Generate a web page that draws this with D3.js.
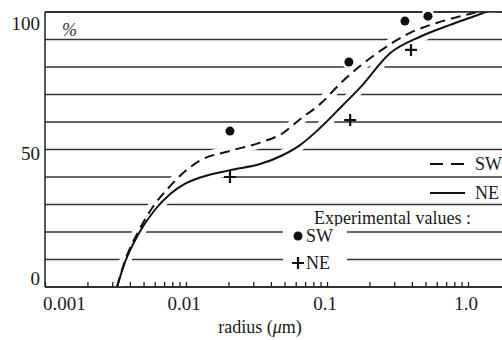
<!DOCTYPE html>
<html>
<head>
<meta charset="utf-8">
<script src="https://cdn.jsdelivr.net/npm/d3@7"></script>
<style>
  body { margin: 0; background: #fff; }
  svg { display: block; }
</style>
</head>
<body>
<div id="chart"></div>
<script>
// cumulative size distribution, % vs radius (um)
var radiusNE = [0.00324, 0.00369, 0.00457, 0.0060, 0.0078, 0.0098, 0.0126, 0.0205, 0.0335, 0.0488, 0.0644, 0.0892, 0.13, 0.171, 0.28, 0.457, 0.745, 1.16, 1.6];
var percentNE = [0, 9, 19, 28, 34, 37.5, 39.8, 42.5, 44.7, 48, 51.6, 57.8, 66.2, 72.4, 85, 91, 95.3, 98.8, 101.5];

var radiusSW = [0.00324, 0.00369, 0.00457, 0.0058, 0.0075, 0.0098, 0.0126, 0.0205, 0.0335, 0.0488, 0.0644, 0.0892, 0.13, 0.226, 0.388, 0.633, 1.03, 1.5];
var percentSW = [0, 9.5, 20, 29, 36, 42, 46, 49.5, 52.5, 56, 61, 66.5, 75, 85, 92.4, 96.4, 99.3, 101.5];

// experimental values
var expRadiusSW = [0.0205, 0.143, 0.357, 0.52];
var expPercentSW = [56.7, 81.8, 96.7, 98.5];
var expRadiusNE = [0.0205, 0.146, 0.394];
var expPercentNE = [40, 60.7, 86.2];

var xTickValues = [0.001, 0.01, 0.1, 1];
var xTickLabels = ["0.001", "0.01", "0.1", "1.0"];
var yTickValues = [0, 50, 100];
var gridValues = [0, 10, 20, 30, 40, 50, 60, 70, 80, 90, 100];

var width = 502, height = 340;
var pLeft = 45, pRight = 502, pTop = 12, pBottom = 287;
var serif = '"Liberation Serif", "Times New Roman", Times, "DejaVu Serif", serif';

var svg = d3.select('#chart').append('svg')
	.attr('width', width)
	.attr('height', height)
	.attr('font-family', serif);

svg.append('rect').attr('width', width).attr('height', height).attr('fill', '#fff');

var x = d3.scaleLog().domain([0.001, 1]).range([pLeft, 468]);
var y = d3.scaleLinear().domain([0, 100]).range([pBottom, pTop]);

svg.append('clipPath').attr('id', 'plot')
	.append('rect')
	.attr('x', pLeft).attr('y', pTop)
	.attr('width', pRight - pLeft).attr('height', pBottom - pTop);

// gridlines
svg.append('g').selectAll('line')
	.data(gridValues)
	.enter().append('line')
	.attr('x1', pLeft).attr('x2', pRight)
	.attr('y1', d => y(d)).attr('y2', d => y(d))
	.style('stroke', '#333')
	.style('stroke-width', 1.3);

var plot = svg.append('g').attr('clip-path', 'url(#plot)');

var line = d3.line().curve(d3.curveMonotoneX);
var ne = radiusNE.map((r, i) => [x(r), y(percentNE[i])]);
var sw = radiusSW.map((r, i) => [x(r), y(percentSW[i])]);

// white halo so gridlines break where curves pass
[ne, sw].forEach(pts => {
	plot.append('path')
		.attr('d', line(pts))
		.style('fill', 'none')
		.style('stroke', '#fff')
		.style('stroke-width', 11);
});

plot.append('path')
	.attr('d', line(sw))
	.style('fill', 'none')
	.style('stroke', '#111')
	.style('stroke-width', 2)
	.style('stroke-dasharray', '10,6');

plot.append('path')
	.attr('d', line(ne))
	.style('fill', 'none')
	.style('stroke', '#111')
	.style('stroke-width', 2);

// axes
svg.append('line')
	.attr('x1', pLeft).attr('x2', pLeft).attr('y1', pTop).attr('y2', pBottom)
	.style('stroke', '#222').style('stroke-width', 1.5);
svg.append('line')
	.attr('x1', pLeft).attr('x2', pRight).attr('y1', pBottom).attr('y2', pBottom)
	.style('stroke', '#222').style('stroke-width', 1.5);
svg.append('line')
	.attr('x1', pLeft).attr('x2', pRight).attr('y1', pTop).attr('y2', pTop)
	.style('stroke', '#222').style('stroke-width', 1.5);

var xAxis = svg.append('g')
	.attr('transform', 'translate(0,' + pBottom + ')')
	.call(d3.axisBottom(x).tickValues(x.ticks()).tickSize(-5).tickFormat(''));
xAxis.select('.domain').remove();
xAxis.selectAll('line').style('stroke', '#222').style('stroke-width', 1.3);

svg.append('g').selectAll('text')
	.data(xTickValues)
	.enter().append('text')
	.attr('x', (d, i) => i === 0 ? pLeft - 2 : x(d) - 2)
	.attr('y', 310)
	.attr('text-anchor', (d, i) => i === 0 ? 'start' : 'middle')
	.style('font-size', '19px')
	.style('fill', '#1a1a1a')
	.text((d, i) => xTickLabels[i]);

var yShift = { 0: -9, 50: 4, 100: 11 };
svg.append('g').selectAll('text')
	.data(yTickValues)
	.enter().append('text')
	.attr('x', 40)
	.attr('y', d => y(d) + yShift[d])
	.attr('dy', '0.35em')
	.attr('text-anchor', 'end')
	.style('font-size', '19px')
	.style('fill', '#1a1a1a')
	.text(d => d);

svg.append('text')
	.attr('x', 62).attr('y', 36)
	.style('font-size', '18px')
	.style('font-style', 'italic')
	.style('fill', '#333')
	.text('%');

var xTitle = svg.append('text')
	.attr('x', 260).attr('y', 333)
	.attr('text-anchor', 'middle')
	.style('font-size', '18px')
	.style('fill', '#1a1a1a');
xTitle.append('tspan').text('radius (');
xTitle.append('tspan').style('font-style', 'italic').text('μ');
xTitle.append('tspan').text('m)');

// legend
var legend = svg.append('g').style('fill', '#1a1a1a');
legend.append('line')
	.attr('x1', 430).attr('x2', 464).attr('y1', 164).attr('y2', 164)
	.style('stroke', '#111').style('stroke-width', 2).style('stroke-dasharray', '13,8');
legend.append('text').attr('x', 475).attr('y', 164).attr('dy', '0.35em')
	.style('font-size', '18px').text('SW');
legend.append('line')
	.attr('x1', 430).attr('x2', 465).attr('y1', 193).attr('y2', 193)
	.style('stroke', '#111').style('stroke-width', 2);
legend.append('text').attr('x', 475).attr('y', 193).attr('dy', '0.35em')
	.style('font-size', '18px').text('NE');

legend.append('text').attr('x', 314).attr('y', 218).attr('dy', '0.35em')
	.style('font-size', '18px').text('Experimental values :');

legend.append('rect').attr('x', 283).attr('y', 226).attr('width', 64).attr('height', 20).attr('fill', '#fff');
legend.append('rect').attr('x', 283).attr('y', 253).attr('width', 64).attr('height', 20).attr('fill', '#fff');
legend.append('circle').attr('cx', 298).attr('cy', 236).attr('r', 4.5).style('fill', '#111');
legend.append('text').attr('x', 306).attr('y', 236).attr('dy', '0.35em')
	.style('font-size', '18px').text('SW');
legend.append('path').attr('d', 'M292,263H304M298,257V269')
	.style('stroke', '#111').style('stroke-width', 2.2);
legend.append('text').attr('x', 306).attr('y', 263).attr('dy', '0.35em')
	.style('font-size', '18px').text('NE');

// experimental points
var pts = svg.append('g');
pts.selectAll('circle.halo')
	.data(expRadiusSW)
	.enter().append('circle')
	.attr('cx', d => x(d))
	.attr('cy', (d, i) => y(expPercentSW[i]))
	.attr('r', 7).style('fill', '#fff');
pts.selectAll('circle.dot')
	.data(expRadiusSW)
	.enter().append('circle')
	.attr('cx', d => x(d))
	.attr('cy', (d, i) => y(expPercentSW[i]))
	.attr('r', 4.5).style('fill', '#111');

pts.selectAll('path.plus')
	.data(expRadiusNE)
	.enter().append('path')
	.attr('d', (d, i) => {
		var cx = x(d), cy = y(expPercentNE[i]);
		return 'M' + (cx - 6) + ',' + cy + 'H' + (cx + 6) + 'M' + cx + ',' + (cy - 6) + 'V' + (cy + 6);
	})
	.style('stroke', '#111')
	.style('stroke-width', 2.2);
</script>
</body>
</html>
